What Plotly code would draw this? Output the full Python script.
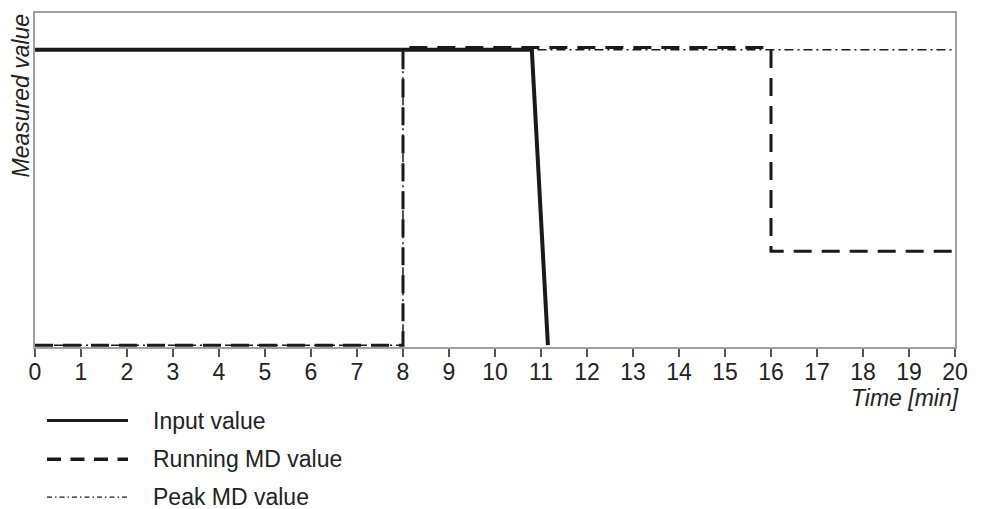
import plotly.graph_objects as go

# Data
input_x = [0, 10.8, 11.15]
input_y = [1.0, 1.0, 0.0]

running_x = [0, 8, 8, 16, 16, 20]
running_y = [0.0, 0.0, 1.007, 1.007, 0.318, 0.318]

peak_x = [0, 8, 8, 20]
peak_y = [0.0, 0.0, 1.0, 1.0]

legend_names = ["Input value", "Running MD value", "Peak MD value"]
x_ticks = list(range(0, 21))

# page has an 8px body margin, so figure is placed at (8, 8)
OFF = 8
W, H = 981 - 2 * OFF, 509 - OFF
# plot area in page pixels: x 35..955, y 11..347
L, T = 35 - OFF, 11 - OFF
R = (OFF + W) - 955
B = (OFF + H) - 347
FONT = "Arial, Liberation Sans, sans-serif"
TXT = "#222222"
FS = 23


def px(x):
    return (x - OFF - L) / (W - L - R)


def py(y):
    return (H - B - (y - OFF)) / (H - T - B)


fig = go.Figure()
fig.add_trace(go.Scatter(x=peak_x, y=peak_y, mode="lines", name=legend_names[2],
                         line=dict(color="#1a1a1a", width=1.5, dash="9px,4px,2px,4px")))
fig.add_trace(go.Scatter(x=running_x, y=running_y, mode="lines", name=legend_names[1],
                         line=dict(color="#1a1a1a", width=3, dash="18px,10px")))
fig.add_trace(go.Scatter(x=input_x, y=input_y, mode="lines", name=legend_names[0],
                         line=dict(color="#1a1a1a", width=4)))

# Legend drawn by hand (long line samples)
leg_y = [421, 460, 498]
leg_styles = [dict(width=3, dash="solid"),
              dict(width=3.5, dash="14px,9.5px"),
              dict(width=1.3, dash="5px,3px,1.5px,3px")]
shapes = []
annotations = []
for name, yy, st in zip(legend_names, leg_y, leg_styles):
    shapes.append(dict(type="line", xref="paper", yref="paper",
                       x0=px(47), x1=px(128), y0=py(yy), y1=py(yy),
                       line=dict(color="#1a1a1a", **st)))
    annotations.append(dict(xref="paper", yref="paper", x=px(151), y=py(yy),
                            xanchor="left", yanchor="middle", showarrow=False,
                            text=name, font=dict(family=FONT, size=FS, color=TXT)))

annotations.append(dict(xref="paper", yref="paper", x=px(21), y=py(94),
                        xanchor="center", yanchor="middle", showarrow=False, textangle=-90,
                        text="<i>Measured value</i>", font=dict(family=FONT, size=FS, color=TXT)))
annotations.append(dict(xref="paper", yref="paper", x=px(961), y=py(398),
                        xanchor="right", yanchor="middle", showarrow=False,
                        text="<i>Time [min]</i>", font=dict(family=FONT, size=FS, color=TXT)))

fig.update_layout(
    width=W, height=H,
    margin=dict(l=L, r=R, t=T, b=B),
    paper_bgcolor="white", plot_bgcolor="white",
    showlegend=False,
    shapes=shapes, annotations=annotations,
    xaxis=dict(range=[0, 20], tickvals=x_ticks, ticktext=[str(v) for v in x_ticks],
               showgrid=False, zeroline=False, showline=True, mirror=True,
               linecolor="#a0a0a0", linewidth=1.5, ticks="outside", ticklen=8,
               tickcolor="#555555", tickwidth=1.5, layer="below traces",
               ticklabelstandoff=-4,
               tickfont=dict(family=FONT, size=FS, color=TXT)),
    yaxis=dict(range=[-0.006, 1.124], showticklabels=False, ticks="",
               showgrid=False, zeroline=False, showline=True, mirror=True,
               linecolor="#a0a0a0", linewidth=1.5, layer="below traces"),
)

fig.write_html("out.html")
